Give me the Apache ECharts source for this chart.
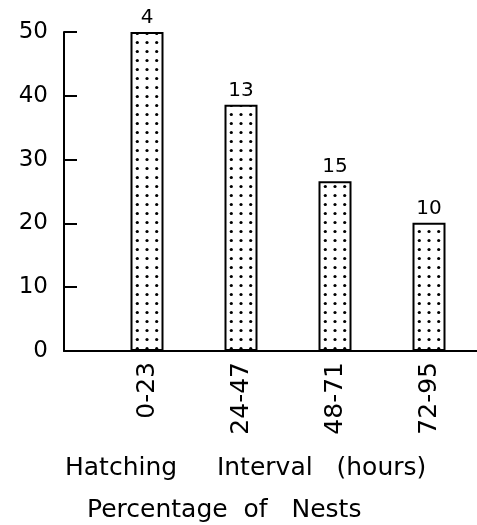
<!DOCTYPE html>
<html>
<head>
<meta charset="utf-8">
<script src="https://cdn.jsdelivr.net/npm/echarts@6/dist/echarts.min.js"></script>
<style>
html,body{margin:0;padding:0;background:#fff;}
#chart{width:477px;height:525px;}
</style>
</head>
<body>
<div id="chart"></div>
<script>
var categories = ['0-23', '24-47', '48-71', '72-95'];
var percentValues = [50, 38.6, 26.6, 20.1];
var nestCounts = [4, 13, 15, 10];
var yTicks = [0, 10, 20, 30, 40, 50];
var xTitle = 'Hatching     Interval   (hours)';
var yTitle = 'Percentage  of   Nests';

var FONT = 'DejaVu Sans';
var chart = echarts.init(document.getElementById('chart'), null, {renderer: 'canvas'});

var option = {
  backgroundColor: '#ffffff',
  animation: false,
  title: [
    {text: xTitle, left: 65, top: 456, padding: 0,
     textStyle: {fontFamily: FONT, fontSize: 25, fontWeight: 'normal', color: '#000'}},
    {text: yTitle, left: 87, top: 498, padding: 0,
     textStyle: {fontFamily: FONT, fontSize: 25, fontWeight: 'normal', color: '#000'}}
  ],
  grid: [
    {left: 64, right: 0, top: 32, bottom: 174},
    {left: 100, right: 1, top: 32, bottom: 174}
  ],
  xAxis: [
    {type: 'value', gridIndex: 0, min: 0, max: 1,
     axisLine: {show: true, onZero: false, lineStyle: {color: '#000', width: 2}},
     axisTick: {show: false}, axisLabel: {show: false}, splitLine: {show: false}},
    {type: 'category', gridIndex: 1, data: categories, boundaryGap: true,
     axisLine: {show: false}, axisTick: {show: false}, splitLine: {show: false},
     axisLabel: {rotate: 90, margin: 11, fontFamily: FONT, fontSize: 25, color: '#000'}}
  ],
  yAxis: [
    {type: 'value', gridIndex: 0, min: yTicks[0], max: yTicks[yTicks.length - 1], interval: 10,
     axisLine: {show: true, lineStyle: {color: '#000', width: 2}},
     axisTick: {show: true, inside: true, length: 13, lineStyle: {color: '#000', width: 2}},
     axisLabel: {margin: 16, fontFamily: FONT, fontSize: 23, color: '#000'},
     splitLine: {show: false}},
    {type: 'value', gridIndex: 1, min: yTicks[0], max: yTicks[yTicks.length - 1], interval: 10, show: false}
  ],
  series: [{
    type: 'bar',
    xAxisIndex: 1,
    yAxisIndex: 1,
    data: percentValues,
    barWidth: 33,
    itemStyle: {
      color: '#ffffff',
      borderColor: '#000',
      borderWidth: 2
    },
    label: {
      show: true,
      position: 'top',
      distance: 4,
      fontFamily: FONT,
      fontSize: 20,
      color: '#000',
      formatter: function (p) { return String(nestCounts[p.dataIndex]); }
    }
  }]
};
chart.setOption(option);

// Dotted (stippled) fill pattern, aligned so each bar shows three columns of dots
var c0 = chart.convertToPixel({xAxisIndex: 1, yAxisIndex: 1}, [0, 0])[0];
var c1 = chart.convertToPixel({xAxisIndex: 1, yAxisIndex: 1}, [1, 0])[0];
var band = Math.round(c1 - c0);
var tileH = 9;
var tile = document.createElement('canvas');
tile.width = band;
tile.height = tileH;
var ctx = tile.getContext('2d');
ctx.fillStyle = '#ffffff';
ctx.fillRect(0, 0, band, tileH);
ctx.fillStyle = '#000000';
var step = 9.7;
[-1, 0, 1].forEach(function (k) {
  var cx = (((c0 + k * step) % band) + band) % band;
  ctx.beginPath();
  ctx.arc(cx, 6.5, 1.6, 0, Math.PI * 2);
  ctx.fill();
});
chart.setOption({series: [{itemStyle: {color: {image: tile, repeat: 'repeat'}}}]});
</script>
</body>
</html>
